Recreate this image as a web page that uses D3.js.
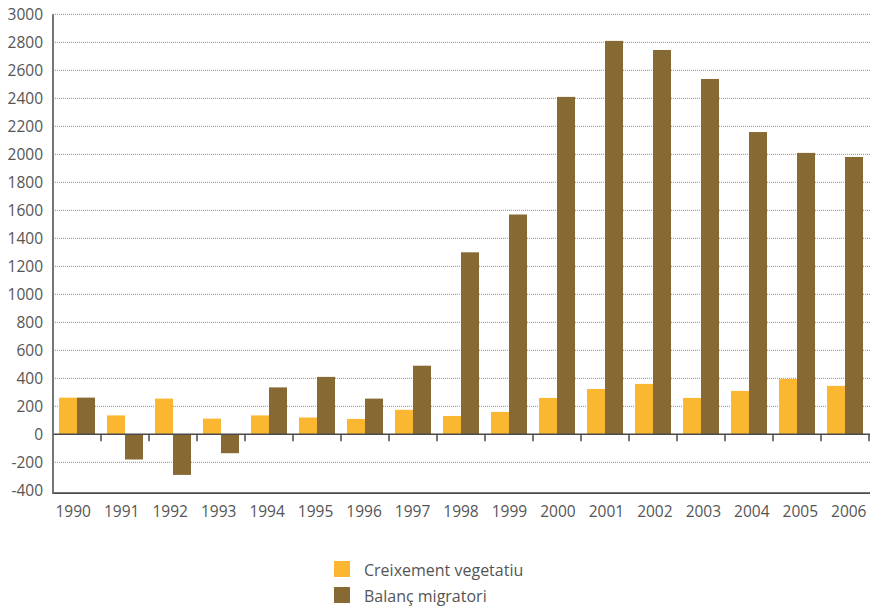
<!DOCTYPE html>
<html>
<head>
<meta charset="utf-8">
<script src="https://cdn.jsdelivr.net/npm/d3@7"></script>
<style>
  html, body { margin: 0; padding: 0; background: #fff; }
  svg text { font-family: "Open Sans", "Noto Sans", sans-serif; fill: #555; }
</style>
</head>
<body>
<svg id="chart" width="873" height="606"></svg>
<script>
const years = ["1990","1991","1992","1993","1994","1995","1996","1997","1998","1999","2000","2001","2002","2003","2004","2005","2006"];
const creixement = [262, 135, 255, 112, 135, 120, 110, 175, 131, 160, 260, 324, 360, 260, 310, 396, 346];
const balanc = [262, -180, -290, -135, 335, 410, 255, 490, 1300, 1570, 2410, 2810, 2745, 2538, 2159, 2010, 1981];
const yTicks = [3000, 2800, 2600, 2400, 2200, 2000, 1800, 1600, 1400, 1200, 1000, 800, 600, 400, 200, 0, -200, -400];
const seriesNames = ["Creixement vegetatiu", "Balanç migratori"];
const colors = ["#FBB731", "#876A33"];

(function () {
const svg = d3.select("#chart");
const plotLeft = 53, plotRight = 869, plotTop = 14.3;

const y = d3.scaleLinear().domain([-400, 3000]).range([490.3, plotTop]);
const x = d3.scaleBand().domain(years).range([plotLeft, plotRight]);
const xLabel = d3.scaleBand().domain(years).range([49, 873]);
const barW = 18;
const groupOff = (x.bandwidth() - 2 * barW) / 2;

// gridlines (dotted)
svg.append("g").selectAll("line")
  .data(yTicks.filter(t => t !== 0 && t !== -400))
  .join("line")
  .attr("x1", plotLeft).attr("x2", plotRight + 1)
  .attr("y1", d => y(d)).attr("y2", d => y(d))
  .attr("stroke", "#8a8a8a").attr("stroke-width", 1)
  .attr("stroke-dasharray", "1,1");

// y labels
svg.append("g").selectAll("text")
  .data(yTicks)
  .join("text")
  .attr("x", 43).attr("y", d => y(d))
  .attr("dy", "0.35em")
  .attr("text-anchor", "end")
  .attr("font-size", 15.5)
  .text(d => d);

// bars
const groups = svg.append("g").selectAll("g")
  .data(years.map((yr, i) => ({yr, vals: [creixement[i], balanc[i]]})))
  .join("g")
  .attr("transform", d => `translate(${x(d.yr) + groupOff},0)`);
groups.selectAll("rect")
  .data(d => d.vals)
  .join("rect")
  .attr("x", (d, i) => i * barW)
  .attr("width", barW)
  .attr("y", d => Math.min(y(d), y(0)))
  .attr("height", d => Math.abs(y(d) - y(0)))
  .attr("fill", (d, i) => colors[i]);

// zero line
svg.append("line")
  .attr("x1", plotLeft).attr("x2", plotRight + 1)
  .attr("y1", y(0)).attr("y2", y(0))
  .attr("stroke", "#4a4a4a").attr("stroke-width", 1.6);
// ticks at band boundaries below zero line
svg.append("g").selectAll("line")
  .data(years)
  .join("line")
  .attr("x1", d => x(d) + x.bandwidth()).attr("x2", d => x(d) + x.bandwidth())
  .attr("y1", y(0)).attr("y2", y(0) + 7)
  .attr("stroke", "#4a4a4a").attr("stroke-width", 1.5);

// bottom axis line
svg.append("line")
  .attr("x1", plotLeft).attr("x2", plotRight + 1)
  .attr("y1", y(-420)).attr("y2", y(-420))
  .attr("stroke", "#4a4a4a").attr("stroke-width", 1.6);
// left axis line
svg.append("line")
  .attr("x1", plotLeft).attr("x2", plotLeft)
  .attr("y1", y(3000)).attr("y2", y(-420) + 0.8)
  .attr("stroke", "#666").attr("stroke-width", 1.8);

// x labels
svg.append("g").selectAll("text")
  .data(years)
  .join("text")
  .attr("x", d => xLabel(d) + xLabel.bandwidth() / 2)
  .attr("y", 517)
  .attr("text-anchor", "middle")
  .attr("font-size", 15.5)
  .text(d => d);

// legend
const leg = svg.append("g").attr("transform", "translate(334,561)");
seriesNames.forEach((name, i) => {
  leg.append("rect").attr("x", 0).attr("y", i * 26).attr("width", 16).attr("height", 16).attr("fill", colors[i]);
  leg.append("text").attr("x", 30).attr("y", i * 26 + 15).attr("font-size", 16).text(name);
});
})();
</script>
</body>
</html>
